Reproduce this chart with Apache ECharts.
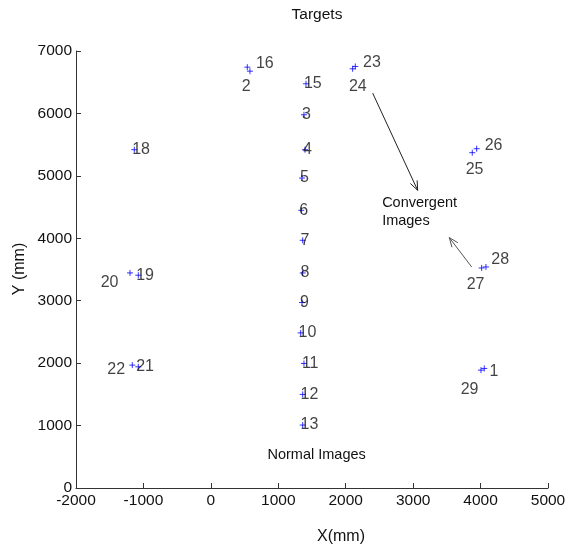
<!DOCTYPE html>
<html>
<head>
<meta charset="utf-8">
<script src="https://cdn.jsdelivr.net/npm/echarts@6/dist/echarts.min.js"></script>
<style>
  html, body { margin: 0; padding: 0; background: #ffffff; }
  #chart { width: 568px; height: 548px; }
</style>
</head>
<body>
<div id="chart"></div>
<script>
// Target positions in mm
const targetIds = [1, 2, 3, 4, 5, 6, 7, 8, 9, 10, 11, 12, 13, 15, 16, 18, 19, 20, 21, 22, 23, 24, 25, 26, 27, 28, 29];
const targetX = [4055, 580, 1381, 1396, 1352, 1341, 1362, 1362, 1352, 1332, 1381, 1362, 1362, 1411, 540, -1135, -1076, -1199, -1076, -1165, 2142, 2103, 3877, 3942, 4016, 4080, 4006];
const targetY = [1915, 6677, 5979, 5419, 4965, 4448, 3968, 3445, 2971, 2485, 1995, 1499, 1008, 6475, 6741, 5419, 3408, 3445, 1941, 1968, 6752, 6715, 5371, 5435, 3525, 3541, 1888];

// Axis ranges and tick steps
const xRange = [-2000, 5000];
const yRange = [0, 7000];
const xStep = 1000;
const yStep = 1000;

// Annotation texts and arrows (data coordinates)
const groupNotes = [
  { text: 'Convergent\nImages', at: [2540, 4420] },
  { text: 'Normal Images', at: [840, 528] }
];
const noteArrows = [
  { from: [2400, 6325], to: [3067, 4768], color: '#222222' },
  { from: [3868, 3541], to: [3536, 4011], color: '#555555' }
];

// Pixel nudges for the id labels (left edge, vertical middle), relative to the marker
const labelNudge = {
  1: [5.6, 3.7], 2: [-7.8, 15.6], 16: [9.2, -3], 20: [-28.8, 10.3], 22: [-24.5, 5],
  23: [8.2, -3.5], 24: [-3.2, 18.5], 25: [-6.1, 16.9], 26: [8.5, -2.6],
  27: [-14.5, 17.3], 28: [5.8, -6.7], 29: [-19.8, 19.7]
};
const defaultNudge = [-1.6, 0.5];

const FONT = '"Liberation Sans", Arial, Helvetica, sans-serif';
const INK = '#111111';
const AXIS = '#333333';
const MARK_SIZE = 6;

const chart = echarts.init(document.getElementById('chart'), null, { renderer: 'canvas' });

const pointData = targetIds.map((id, i) => {
  const nudge = labelNudge[id] || defaultNudge;
  return {
    value: [targetX[i], targetY[i]],
    name: String(id),
    // label position is measured from the symbol's top-left corner
    label: { position: [MARK_SIZE / 2 + nudge[0], MARK_SIZE / 2 + nudge[1]] }
  };
});

const plainNumber = v => String(v);

const option = {
  animation: false,
  backgroundColor: '#ffffff',
  grid: { left: 76, right: 20, top: 51, bottom: 60, containLabel: false, outerBoundsMode: 'none' },
  xAxis: {
    type: 'value',
    min: xRange[0], max: xRange[1], interval: xStep,
    name: 'X(mm)',
    nameLocation: 'middle',
    nameGap: 41,
    nameTextStyle: { fontFamily: FONT, fontSize: 16, color: INK, padding: [0, 0, 0, 58] },
    axisLine: { show: true, onZero: false, lineStyle: { color: AXIS, width: 1 } },
    axisTick: { show: true, inside: true, length: 5, lineStyle: { color: AXIS } },
    axisLabel: { fontFamily: FONT, fontSize: 15.5, color: INK, margin: 5, formatter: plainNumber },
    splitLine: { show: false }
  },
  yAxis: {
    type: 'value',
    min: yRange[0], max: yRange[1], interval: yStep,
    axisLine: { show: true, onZero: false, lineStyle: { color: AXIS, width: 1 } },
    axisTick: { show: true, inside: true, length: 5, lineStyle: { color: AXIS } },
    axisLabel: { fontFamily: FONT, fontSize: 15.5, color: INK, margin: 4, formatter: plainNumber },
    splitLine: { show: false }
  },
  series: [{
    type: 'scatter',
    symbol: 'path://M5,0L5,10M0,5L10,5',
    symbolSize: MARK_SIZE,
    itemStyle: { color: 'rgba(0,0,0,0)', borderColor: '#0000ff', borderWidth: 1 },
    label: {
      show: true,
      align: 'left',
      verticalAlign: 'middle',
      formatter: p => p.name,
      fontFamily: FONT,
      fontSize: 16,
      color: INK
    },
    emphasis: { disabled: true },
    data: pointData
  }],
  graphic: [
    {
      type: 'text',
      x: 317, y: 15,
      style: { text: 'Targets', font: '15.5px ' + FONT, fill: INK, textAlign: 'center', textVerticalAlign: 'middle' }
    },
    {
      // vertical axis title, centred on the plot height
      type: 'text',
      x: 20, y: 269,
      rotation: Math.PI / 2,
      style: { text: 'Y (mm)', font: '16px ' + FONT, fill: INK, textAlign: 'center', textVerticalAlign: 'middle' }
    }
  ]
};

chart.setOption(option);

// Notes and arrows, placed through the grid's own coordinate system
function arrowShapes(a) {
  const p0 = chart.convertToPixel({ gridIndex: 0 }, a.from);
  const p1 = chart.convertToPixel({ gridIndex: 0 }, a.to);
  const ang = Math.atan2(p1[1] - p0[1], p1[0] - p0[0]);
  const len = 10, spread = 0.38;
  const h1 = [p1[0] - len * Math.cos(ang - spread), p1[1] - len * Math.sin(ang - spread)];
  const h2 = [p1[0] - len * Math.cos(ang + spread), p1[1] - len * Math.sin(ang + spread)];
  return [
    { type: 'polyline', shape: { points: [p0, p1] }, style: { stroke: a.color, lineWidth: 1, fill: null } },
    { type: 'polyline', shape: { points: [h1, p1, h2] }, style: { stroke: a.color, lineWidth: 1, fill: null } }
  ];
}

const extra = [];
groupNotes.forEach(n => {
  const p = chart.convertToPixel({ gridIndex: 0 }, n.at);
  extra.push({
    type: 'text', x: p[0], y: p[1],
    style: { text: n.text, font: '14.5px ' + FONT, fill: INK, textAlign: 'left', textVerticalAlign: 'middle', lineHeight: 18 }
  });
});
noteArrows.forEach(a => extra.push(...arrowShapes(a)));

chart.setOption({ graphic: option.graphic.concat(extra) });
</script>
</body>
</html>
